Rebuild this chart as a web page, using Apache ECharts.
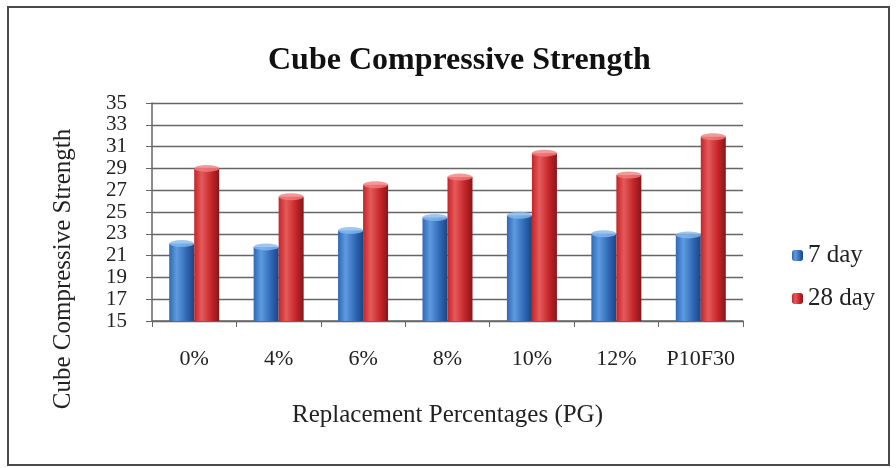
<!DOCTYPE html>
<html>
<head>
<meta charset="utf-8">
<script src="https://cdn.jsdelivr.net/npm/echarts@6/dist/echarts.min.js"></script>
<style>
  html, body { margin: 0; padding: 0; background: #fff; }
  #wrap { position: relative; width: 896px; height: 468px; }
  #chart { position: absolute; left: 0; top: 0; width: 896px; height: 468px; }
  #frame { position: absolute; left: 7px; top: 6px; width: 883px; height: 460px;
           box-sizing: border-box; border: 2px solid #4a4a4a; pointer-events: none; }
</style>
</head>
<body>
<div id="wrap">
  <div id="chart"></div>
  <div id="frame"></div>
</div>
<script>
// Replacement levels of PG and the two curing ages
const categories = ['0%', '4%', '6%', '8%', '10%', '12%', 'P10F30'];
const day7 = [22.1, 21.8, 23.3, 24.5, 24.7, 23.0, 22.9];
const day28 = [29.0, 26.4, 27.5, 28.2, 30.4, 28.4, 31.9];
const yTicks = { min: 15, max: 35, step: 2 };

const serif = '"Liberation Serif", "Times New Roman", serif';

function cylinder(dark, mid, light) {
  return new echarts.graphic.LinearGradient(0, 0, 1, 0, [
    { offset: 0, color: mid },
    { offset: 0.3, color: light },
    { offset: 0.7, color: mid },
    { offset: 1, color: dark }
  ]);
}

const chart = echarts.init(document.getElementById('chart'), null, { renderer: 'canvas' });
chart.setOption({
  animation: false,
  backgroundColor: '#fff',
  title: {
    text: 'Cube Compressive Strength',
    left: 268,
    top: 45,
    padding: 0,
    textStyle: { fontFamily: serif, fontWeight: 'bold', fontSize: 32, color: '#111' }
  },
  legend: {
    data: ['7 day', '28 day'],
    orient: 'vertical',
    left: 787,
    top: 238,
    itemWidth: 11,
    itemHeight: 11,
    itemGap: 18,
    textStyle: { fontFamily: serif, fontSize: 25, color: '#222', padding: [12, 0, 0, 0] }
  },
  grid: { left: 152, right: 153, top: 103, bottom: 147, containLabel: false },
  xAxis: {
    type: 'category',
    data: categories,
    name: 'Replacement Percentages (PG)',
    nameLocation: 'middle',
    nameGap: 82,
    nameTextStyle: { fontFamily: serif, fontSize: 25, color: '#222' },
    axisLine: { lineStyle: { color: '#666', width: 1.5 } },
    axisTick: { show: true, length: 6, lineStyle: { color: '#666' } },
    axisLabel: { interval: 0, margin: 27, fontFamily: serif, fontSize: 22, color: '#222' }
  },
  yAxis: {
    type: 'value',
    min: yTicks.min,
    max: yTicks.max,
    interval: yTicks.step,
    name: 'Cube Compressive Strength',
    nameLocation: 'middle',
    nameGap: 76,
    nameTextStyle: { fontFamily: serif, fontSize: 25, color: '#222', padding: [0, 114, 0, 0] },
    axisLine: { show: true, lineStyle: { color: '#666', width: 1.5 } },
    axisTick: { show: true, length: 6, lineStyle: { color: '#666' } },
    axisLabel: {
      margin: 25, fontFamily: serif, fontSize: 21, color: '#222',
      showMinLabel: true, showMaxLabel: true, hideOverlap: false
    },
    splitLine: { lineStyle: { color: '#666', width: 1.3 } }
  },
  series: [
    {
      name: '7 day',
      type: 'bar',
      data: day7,
      barWidth: 25,
      barGap: '0%',
      color: '#2f67b5',
      itemStyle: { color: cylinder('#1b457f', '#2f67b5', '#5d9be0') }
    },
    {
      name: '28 day',
      type: 'bar',
      data: day28,
      barWidth: 25,
      barGap: '0%',
      color: '#c42428',
      itemStyle: { color: cylinder('#84171a', '#c42428', '#e55a5b') }
    },
    {
      name: '7 day cap',
      type: 'scatter',
      data: day7,
      symbol: 'circle',
      symbolSize: [25, 7],
      symbolOffset: [-12.5, 0],
      itemStyle: { color: '#86b8ee' },
      z: 3
    },
    {
      name: '28 day cap',
      type: 'scatter',
      data: day28,
      symbol: 'circle',
      symbolSize: [25, 7],
      symbolOffset: [12.5, 0],
      itemStyle: { color: '#f0807f' },
      z: 3
    }
  ]
});
</script>
</body>
</html>
